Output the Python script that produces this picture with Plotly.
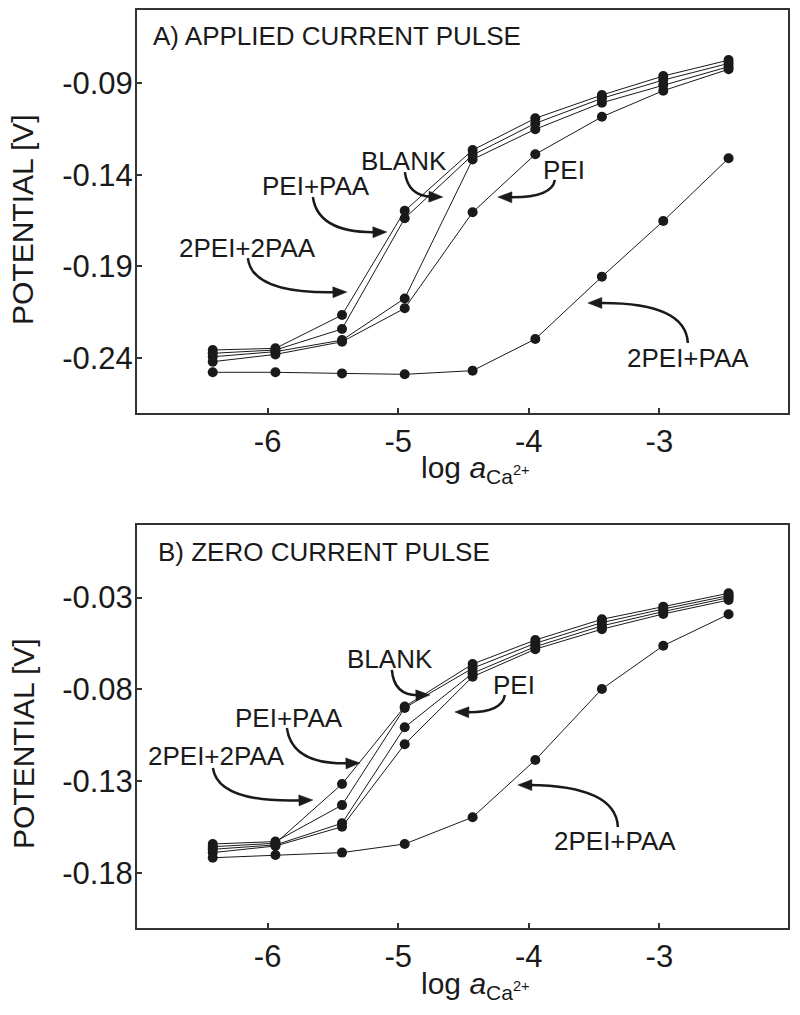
import math
import plotly.graph_objects as go

# log a(Ca2+) of the calibration points
x_log = [-6.42, -5.94, -5.43, -4.95, -4.43, -3.95, -3.44, -2.97, -2.47]

# A) applied current pulse, potential [V]
a_blank = [-0.2395, -0.2367, -0.2304, -0.2076, -0.1316, -0.1151, -0.1006, -0.0909, -0.0809]
a_pei = [-0.2422, -0.2382, -0.2313, -0.2130, -0.1605, -0.1288, -0.1083, -0.0940, -0.0823]
a_pei_paa = [-0.2358, -0.2349, -0.2167, -0.1597, -0.1265, -0.1091, -0.0964, -0.0860, -0.0773]
a_2pei_2paa = [-0.2376, -0.2358, -0.2243, -0.1638, -0.1292, -0.1119, -0.0982, -0.0882, -0.0791]
a_2pei_paa = [-0.2480, -0.2480, -0.2486, -0.2491, -0.2471, -0.2298, -0.1957, -0.1653, -0.1310]

# B) zero current pulse, potential [V]
b_blank = [-0.1672, -0.1648, -0.1530, -0.1007, -0.0712, -0.0567, -0.0454, -0.0376, -0.0300]
b_pei = [-0.1690, -0.1654, -0.1549, -0.1099, -0.0731, -0.0581, -0.0472, -0.0389, -0.0313]
b_pei_paa = [-0.1643, -0.1630, -0.1431, -0.0901, -0.0685, -0.0549, -0.0436, -0.0362, -0.0289]
b_2pei_2paa = [-0.1658, -0.1639, -0.1316, -0.0894, -0.0662, -0.0531, -0.0418, -0.0349, -0.0276]
b_2pei_paa = [-0.1718, -0.1703, -0.1690, -0.1643, -0.1497, -0.1185, -0.0798, -0.0562, -0.0391]

series_names = ['BLANK', 'PEI', 'PEI+PAA', '2PEI+2PAA', '2PEI+PAA']
x_ticks = [-6, -5, -4, -3]
x_ticktext = ['-6', '-5', '-4', '-3']
a_yticks = [-0.24, -0.19, -0.14, -0.09]
a_yticktext = ['-0.24', '-0.19', '-0.14', '-0.09']
b_yticks = [-0.18, -0.13, -0.08, -0.03]
b_yticktext = ['-0.18', '-0.13', '-0.08', '-0.03']

FONT = 'Liberation Sans, Arial, sans-serif'
INK = '#1a1a1a'
W, H = 800, 1015
OFF = 8  # the page body margin shifts the figure by 8 px
# plot area wanted on the page: x 137..788, y 10..928
ML, MT = 137 - OFF, 10 - OFF
MR, MB = W - (788 - OFF), H - (928 - OFF)

fig = go.Figure()
for name, ya, yb in zip(series_names,
                        [a_blank, a_pei, a_pei_paa, a_2pei_2paa, a_2pei_paa],
                        [b_blank, b_pei, b_pei_paa, b_2pei_2paa, b_2pei_paa]):
    for ys, xa, yax in [(ya, 'x', 'y'), (yb, 'x2', 'y2')]:
        fig.add_trace(go.Scatter(x=x_log, y=ys, name=name, mode='lines+markers',
                                 xaxis=xa, yaxis=yax, showlegend=False,
                                 line=dict(color=INK, width=1),
                                 marker=dict(color=INK, size=10)))

# page pixel -> data helpers
def px2x(px):
    return -5 + (px - 398.3) / 130.6

def py2y(py, panel):
    if panel == 'A':
        return -0.09 - (py - 83.3) / 1829.0
    return -0.03 - (py - 597.7) / 1834.0

def px2paper(px):
    return (px - 137) / (788 - 137)

def py2paper(py):
    return 1 - (py - 10) / (928 - 10)

shapes = []
annots = []

def curved_arrow(panel, p0, c, p1, head=14, half=5.5):
    xr, yr = ('x', 'y') if panel == 'A' else ('x2', 'y2')
    dx, dy = p1[0] - c[0], p1[1] - c[1]
    n = math.hypot(dx, dy)
    ux, uy = dx / n, dy / n
    bx, by = p1[0] - ux * head, p1[1] - uy * head
    path = 'M {},{} Q {},{} {},{}'.format(px2x(p0[0]), py2y(p0[1], panel),
                                          px2x(c[0]), py2y(c[1], panel),
                                          px2x(bx + ux * 3), py2y(by + uy * 3, panel))
    shapes.append(dict(type='path', path=path, xref=xr, yref=yr,
                       line=dict(color=INK, width=2.5)))
    lx, ly = bx - uy * half, by + ux * half
    rx, ry = bx + uy * half, by - ux * half
    tri = 'M {},{} L {},{} L {},{} Z'.format(px2x(p1[0]), py2y(p1[1], panel),
                                            px2x(lx), py2y(ly, panel),
                                            px2x(rx), py2y(ry, panel))
    shapes.append(dict(type='path', path=tri, xref=xr, yref=yr,
                       fillcolor=INK, line=dict(color=INK, width=0.5)))

def label(panel, text, cx, cy, size=26):
    xr, yr = ('x', 'y') if panel == 'A' else ('x2', 'y2')
    annots.append(dict(text=text, x=px2x(cx), y=py2y(cy, panel), xref=xr, yref=yr,
                       showarrow=False, xanchor='center', yanchor='middle',
                       font=dict(family=FONT, size=size, color=INK)))

# panel A labels
label('A', 'BLANK', 404, 161)
curved_arrow('A', (405, 172), (408, 196), (443, 197))
label('A', 'PEI+PAA', 316, 186)
curved_arrow('A', (313, 197), (318, 233), (387, 232))
label('A', '2PEI+2PAA', 248, 248)
curved_arrow('A', (248, 258), (252, 294), (347, 292))
label('A', 'PEI', 564, 170)
curved_arrow('A', (555, 180), (552, 198), (498, 197))
label('A', '2PEI+PAA', 688, 358)
curved_arrow('A', (688, 343), (686, 302), (588, 303))

# panel B labels
label('B', 'BLANK', 390, 659)
curved_arrow('B', (392, 670), (394, 696), (430, 695))
label('B', 'PEI+PAA', 289, 718)
curved_arrow('B', (287, 728), (292, 765), (360, 763))
label('B', '2PEI+2PAA', 217, 756)
curved_arrow('B', (213, 768), (218, 803), (313, 800))
label('B', 'PEI', 514, 685)
curved_arrow('B', (505, 695), (502, 713), (455, 712))
label('B', '2PEI+PAA', 615, 841)
curved_arrow('B', (618, 827), (616, 786), (518, 785))

# panel titles
annots.append(dict(text='A) APPLIED CURRENT PULSE', x=px2x(151), y=py2y(36, 'A'),
                   xref='x', yref='y', showarrow=False, xanchor='left', yanchor='middle',
                   font=dict(family=FONT, size=26, color=INK)))
annots.append(dict(text='B) ZERO CURRENT PULSE', x=px2x(156), y=py2y(552, 'B'),
                   xref='x2', yref='y2', showarrow=False, xanchor='left', yanchor='middle',
                   font=dict(family=FONT, size=26, color=INK)))

# axis titles
for cy in [220, 744]:
    annots.append(dict(text='POTENTIAL [V]', x=px2paper(23), y=py2paper(cy),
                       xref='paper', yref='paper', showarrow=False, textangle=-90,
                       xanchor='center', yanchor='middle',
                       font=dict(family=FONT, size=30, color=INK)))
for ty in [470, 985]:
    annots.append(dict(text='log <i>a</i><sub>Ca<sup>2+</sup></sub>', x=px2paper(475),
                       y=py2paper(ty), xref='paper', yref='paper', showarrow=False,
                       xanchor='center', yanchor='middle',
                       font=dict(family=FONT, size=30, color=INK)))

axis_common = dict(showline=True, mirror=True, linecolor='#333333', linewidth=2,
                   ticks='inside', ticklen=5, tickwidth=1.5, tickcolor='#333333',
                   showgrid=False, zeroline=False, automargin=False,
                   tickfont=dict(family=FONT, size=31, color=INK))

fig.update_layout(
    width=W, height=H,
    margin=dict(l=ML, r=MR, t=MT, b=MB, autoexpand=False),
    paper_bgcolor='white', plot_bgcolor='white',
    xaxis=dict(axis_common, domain=[0, 1], range=[-7.0, -2.015], anchor='y',
               tickvals=x_ticks, ticktext=x_ticktext, ticklabelstandoff=0),
    yaxis=dict(axis_common, domain=[0.5613, 1.0], range=[-0.2701, -0.0499], anchor='x',
               tickvals=a_yticks, ticktext=a_yticktext, ticklabelstandoff=-4),
    xaxis2=dict(axis_common, domain=[0, 1], range=[-7.0, -2.015], anchor='y2',
                tickvals=x_ticks, ticktext=x_ticktext, ticklabelstandoff=0),
    yaxis2=dict(axis_common, domain=[0.0, 0.4390], range=[-0.2101, 0.0096], anchor='x2',
                tickvals=b_yticks, ticktext=b_yticktext, ticklabelstandoff=-4),
    shapes=shapes,
    annotations=annots,
)

fig.write_html('out.html')
